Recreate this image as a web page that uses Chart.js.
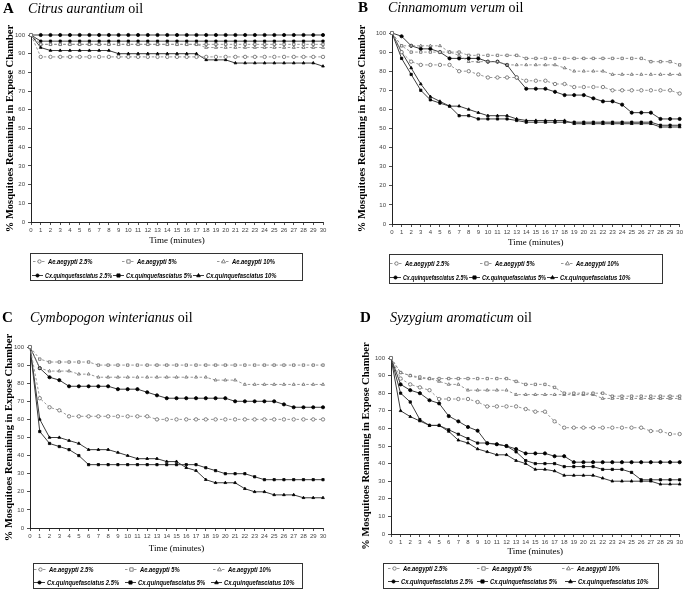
<!DOCTYPE html>
<html><head><meta charset="utf-8">
<script src="https://cdn.jsdelivr.net/npm/chart.js@4.4.1/dist/chart.umd.min.js"></script>
<style>
html,body{margin:0;padding:0;background:#fff;}
#wrap{position:relative;width:685px;height:589px;overflow:hidden;background:#fff;}
canvas{position:absolute;}
</style></head><body>
<div id="wrap">
<canvas id="cA" width="342" height="292" style="left:0;top:0"></canvas>
<canvas id="cB" width="343" height="292" style="left:342px;top:0"></canvas>
<canvas id="cC" width="342" height="297" style="left:0;top:292px"></canvas>
<canvas id="cD" width="343" height="297" style="left:342px;top:292px"></canvas>
</div>
<script>
// ---------- data ----------
const TIME_LABELS = ['0','1','2','3','4','5','6','7','8','9','10','11','12','13','14','15','16','17','18','19','20','21','22','23','24','25','26','27','28','29','30'];
const SERIES_NAMES = ['Ae.aegypti 2.5%','Ae.aegypti 5%','Ae.aegypti 10%','Cx.quinquefasciatus 2.5%','Cx.quinquefasciatus 5%','Cx.quinquefasciatus 10%'];
const Y_TITLE = '% Mosquitoes Remaining in Expose Chamber';
const X_TITLE = 'Time (minutes)';

// Panel A: Citrus aurantium oil
const A_AE_25 = [100, 88.3,88.3,88.3,88.3,88.3,88.3,88.3,88.3,88.3,88.3, 88.3,88.3,88.3,88.3,88.3,88.3,88.3,88.3,88.3,88.3, 88.3,88.3,88.3,88.3,88.3,88.3,88.3,88.3,88.3,88.3];
const A_AE_5  = [100, 95,95,95,95,95,95,95,95,95,95, 95,95,95,95,95,95,95,95,95,95, 95,95,95,95,95,95,95,95,95,95];
const A_AE_10 = [100, 95,95,95,95,95,95,95,95,95,95, 95,95,95,95,95,95,95,93.3,93.3,93.3, 93.3,93.3,93.3,93.3,93.3,93.3,93.3,93.3,93.3,93.3];
const A_CX_25 = [100, 100,100,100,100,100,100,100,100,100,100, 100,100,100,100,100,100,100,100,100,100, 100,100,100,100,100,100,100,100,100,100];
const A_CX_5  = [100, 96.7,96.7,96.7,96.7,96.7,96.7,96.7,96.7,96.7,96.7, 96.7,96.7,96.7,96.7,96.7,96.7,96.7,96.7,96.7,96.7, 96.7,96.7,96.7,96.7,96.7,96.7,96.7,96.7,96.7,96.7];
const A_CX_10 = [100, 93.3,91.7,91.7,91.7,91.7,91.7,91.7,91.7,90,90, 90,90,90,90,90,90,90,86.7,86.7,86.7, 85,85,85,85,85,85,85,85,85,83.3];

// Panel B: Cinnamomum verum oil
const B_AE_25 = [100, 90,85,83.3,83.3,83.3,83.3,80,80,78.3,76.7, 76.7,76.7,76.7,75,75,75,73.3,73.3,71.7,71.7, 71.7,71.7,70,70,70,70,70,70,70,68.3];
const B_AE_5  = [100, 93.3,90,90,90,90,90,90,88.3,88.3,88.3, 88.3,88.3,88.3,86.7,86.7,86.7,86.7,86.7,86.7,86.7, 86.7,86.7,86.7,86.7,86.7,86.7,85,85,85,83.3];
const B_AE_10 = [100, 93.3,93.3,93.3,93.3,93.3,90,88.3,85,85,85, 85,83.3,83.3,83.3,83.3,83.3,83.3,81.7,80,80, 80,80,78.3,78.3,78.3,78.3,78.3,78.3,78.3,78.3];
const B_CX_25 = [100, 98.3,93.3,91.7,91.7,90,86.7,86.7,86.7,86.7,85, 85,83.3,76.7,70.8,70.8,70.8,69.2,67.5,67.5,67.5, 65.8,64.2,64.2,62.5,58.3,58.3,58.3,55,55,55];
const B_CX_5  = [100, 86.7,78.3,70,65,63.3,61.7,56.7,56.7,55,55, 55,55,54.2,53.3,53.3,53.3,53.3,53.3,53.3,53.3, 53.3,53.3,53.3,53.3,53.3,53.3,53.3,51.7,51.7,51.7];
const B_CX_10 = [100, 90,81.7,73.3,66.7,64.2,61.7,61.7,60,58.3,56.7, 56.7,56.7,55,54.2,54.2,54.2,54.2,54.2,52.5,52.5, 52.5,52.5,52.5,52.5,52.5,52.5,52.5,50.8,50.8,50.8];

// Panel C: Cymbopogon winterianus oil
const C_AE_25 = [100, 71.7,66.7,65,61.7,61.7,61.7,61.7,61.7,61.7,61.7, 61.7,61.7,60,60,60,60,60,60,60,60, 60,60,60,60,60,60,60,60,60,60];
const C_AE_5  = [100, 93.3,91.7,91.7,91.7,91.7,91.7,90,90,90,90, 90,90,90,90,90,90,90,90,90,90, 90,90,90,90,90,90,90,90,90,90];
const C_AE_10 = [100, 88.3,86.7,86.7,86.7,85,85,83.3,83.3,83.3,83.3, 83.3,83.3,83.3,83.3,83.3,83.3,83.3,83.3,81.7,81.7, 81.7,79.3,79.3,79.3,79.3,79.3,79.3,79.3,79.3,79.3];
const C_CX_25 = [100, 88.3,83.3,81.7,78.3,78.3,78.3,78.3,78.3,76.7,76.7, 76.7,75,73.3,71.7,71.7,71.7,71.7,71.7,71.7,71.7, 70,70,70,70,70,68.3,66.7,66.7,66.7,66.7];
const C_CX_5  = [100, 53.3,46.7,45,43.3,40,35,35,35,35,35, 35,35,35,35,35,35,35,33.3,31.7,30, 30,30,28.3,26.7,26.7,26.7,26.7,26.7,26.7,26.7];
const C_CX_10 = [100, 60,50,50,48.3,46.7,43.3,43.3,43.3,41.7,40, 38.3,38.3,38.3,36.7,36.7,33.3,31.7,26.7,25,25, 25,21.7,20,20,18.3,18.3,18.3,16.7,16.7,16.7];

// Panel D: Syzygium aromaticum oil
const D_AE_25 = [100, 88.3,85,83.3,81.7,76.7,76.7,76.7,76.7,75,72.5, 72.5,72.5,72.5,71,69.5,69.5,64,60.4,60.4,60.4, 60.4,60.4,60.4,60.4,60.4,60.4,58.5,58.5,56.8,56.8];
const D_AE_5  = [100, 91.7,90,89.2,88.3,88.3,88.3,88.3,88.3,88.3,88.3, 88.3,88.3,86.7,85,85,85,83.3,80,80,80, 80,80,78.3,78.3,78.3,78.3,78.3,78.3,78.3,78.3];
const D_AE_10 = [100, 91.7,90,88.3,88.3,86.7,85,85,81.7,81.7,81.7, 81.7,81.7,79.2,79.2,79.2,79.2,79.2,79.2,79.2,79.2, 79.2,77,77,77,77,77,77,77,77,77];
const D_CX_25 = [100, 85,81.7,80,76,74.2,67,64,60.8,58.7,51.5, 51,50,48.3,45.8,45.8,45.8,44.2,44.2,40.8,40.8, 40.8,40.8,40.8,40.8,40.8,40.8,40.8,40.8,40.8,40.8];
const D_CX_5  = [100, 80,75,65,61.7,61.7,59.2,56.7,54.2,51.7,51.7, 51,50,46.7,41.7,40,40,40,38.3,38.3,38.3, 38.3,36.7,36.7,36.7,35,30.8,30.8,30.8,30.8,30.8];
const D_CX_10 = [100, 70,66.7,64.2,61.7,61.7,58.3,53.3,51.7,48.3,46.7, 45,45,41.7,40,36.7,36.7,35.8,33.3,33.3,33.3, 33.3,31.7,30,30,30,30,30,28.3,28.3,28.3];

// ---------- styling ----------
const SHAPES = ['circle','rect','triangle'];
function styleFor(i){
  const ae = i < 3;
  return {
    borderColor: ae ? '#8c8c8c' : '#3c3c3c',
    borderWidth: ae ? 0.9 : 1,
    borderDash: ae ? [2.5, 2] : [],
    pointStyle: SHAPES[i % 3],
    pointRadius: ae ? 1.7 : 1.6,
    pointBorderWidth: 0.8,
    pointBackgroundColor: ae ? '#ffffff' : '#000000',
    pointBorderColor: ae ? '#666666' : '#000000',
    tension: 0, fill: false, clip: 6
  };
}

function marker(ctx, style, x, y, r, fill, stroke, lw){
  ctx.beginPath();
  if (style === 'circle') ctx.arc(x, y, r, 0, Math.PI*2);
  else if (style === 'rect') ctx.rect(x-r, y-r, 2*r, 2*r);
  else { ctx.moveTo(x, y-r*1.25); ctx.lineTo(x+r*1.15, y+r*0.8); ctx.lineTo(x-r*1.15, y+r*0.8); ctx.closePath(); }
  ctx.fillStyle = fill; ctx.fill();
  ctx.strokeStyle = stroke; ctx.lineWidth = lw; ctx.stroke();
}

const panelDeco = {
  id: 'panelDeco',
  afterDraw(chart, args, o){
    const ctx = chart.ctx;
    ctx.save();
    ctx.setLineDash([]);
    ctx.fillStyle = '#000';
    ctx.textBaseline = 'alphabetic';
    ctx.textAlign = 'left';
    ctx.font = 'bold 15px "Liberation Serif", "Times New Roman", serif';
    ctx.fillText(o.letter, o.letterX, o.titleY);
    ctx.font = 'italic 14px "Liberation Serif", "Times New Roman", serif';
    ctx.fillText(o.species, o.titleX, o.titleY);
    const w = ctx.measureText(o.species + ' ').width;
    ctx.font = '14px "Liberation Serif", "Times New Roman", serif';
    ctx.fillText('oil', o.titleX + w, o.titleY);

    const L = o.legend;
    ctx.strokeStyle = '#333'; ctx.lineWidth = 1;
    ctx.strokeRect(L.x + 0.5, L.y + 0.5, L.w, L.h);
    chart.data.datasets.forEach((ds, i) => {
      const row = i < 3 ? 0 : 1, col = i % 3;
      const xs = L.cols[row];
      const sampleW = row === 0 ? 13 : 11;
      const sx = L.x + xs[col], sy = L.rows[row];
      ctx.save();
      ctx.strokeStyle = ds.borderColor; ctx.lineWidth = ds.borderWidth;
      ctx.setLineDash(ds.borderDash);
      ctx.beginPath(); ctx.moveTo(sx, sy + 0.5); ctx.lineTo(sx + sampleW, sy + 0.5); ctx.stroke();
      ctx.restore();
      marker(ctx, ds.pointStyle, sx + sampleW / 2, sy + 0.5, ds.pointRadius, ds.pointBackgroundColor, ds.pointBorderColor, ds.pointBorderWidth);
      ctx.fillStyle = '#000';
      ctx.font = 'italic bold 7.5px "Liberation Sans", Arial, sans-serif';
      ctx.textBaseline = 'middle';
      const tx = sx + sampleW + 2;
      const limit = col < 2 ? L.x + xs[col+1] - 1 : L.x + L.w - 1;
      const natural = ctx.measureText(ds.label).width;
      ctx.fillText(ds.label, tx, sy + 0.5, Math.max(10, Math.min(natural * 0.78, limit - tx)));
    });
    ctx.restore();
  }
};

const TICK_FONT = {family: '"Liberation Sans", Arial, sans-serif', size: 6};

function makeChart(id, series, deco, geom){
  new Chart(document.getElementById(id), {
    type: 'line',
    data: {
      labels: TIME_LABELS,
      datasets: series.map((d, i) => Object.assign({label: SERIES_NAMES[i], data: d}, styleFor(i)))
    },
    options: {
      responsive: false, animation: false, devicePixelRatio: 1, events: [],
      layout: {padding: geom.pad},
      plugins: {legend: {display: false}, tooltip: {enabled: false}, panelDeco: deco},
      scales: {
        x: {
          type: 'category', offset: false,
          grid: {display: true, drawOnChartArea: false, drawTicks: true, tickLength: 3, color: '#222', lineWidth: 0.8},
          border: {display: true, color: '#222', width: 1},
          ticks: {autoSkip: false, maxRotation: 0, minRotation: 0, padding: 2, font: TICK_FONT, color: '#444'},
          title: {display: true, text: X_TITLE, color: '#000', font: {family: '"Liberation Serif", "Times New Roman", serif', size: 9}, padding: {top: 0, bottom: 0}},
          afterFit: s => { s.height = geom.xh; }
        },
        y: {
          min: 0, max: 100,
          grid: {display: true, drawOnChartArea: false, drawTicks: true, tickLength: 3, color: '#222', lineWidth: 0.8},
          border: {display: true, color: '#222', width: 1},
          ticks: {stepSize: 10, padding: 3, font: TICK_FONT, color: '#444'},
          title: {display: true, text: Y_TITLE, color: '#000', font: {family: '"Liberation Serif", "Times New Roman", serif', size: 10.5, weight: 'bold'}, padding: {top: geom.yt, bottom: 0}},
          afterFit: s => { s.width = geom.yw; }
        }
      }
    },
    plugins: [panelDeco]
  });
}

makeChart('cA', [A_AE_25, A_AE_5, A_AE_10, A_CX_25, A_CX_5, A_CX_10],
  {letter: 'A', letterX: 3, titleX: 28, titleY: 13, species: 'Citrus aurantium',
   legend: {x: 30, y: 253, w: 272, h: 27, rows: [261, 275], cols: [[3, 92, 187], [2, 83, 163]]}},
  {pad: {left: 0, top: 35, right: 19, bottom: 46}, yw: 31, xh: 24, yt: 4});

makeChart('cB', [B_AE_25, B_AE_5, B_AE_10, B_CX_25, B_CX_5, B_CX_10],
  {letter: 'B', letterX: 16, titleX: 46, titleY: 12, species: 'Cinnamomum verum',
   legend: {x: 47, y: 254, w: 273, h: 29, rows: [263, 277], cols: [[1, 91, 172], [1, 80, 158]]}},
  {pad: {left: 0, top: 33, right: 2, bottom: 44}, yw: 50, xh: 24, yt: 14});

makeChart('cC', [C_AE_25, C_AE_5, C_AE_10, C_CX_25, C_CX_5, C_CX_10],
  {letter: 'C', letterX: 2, titleX: 30, titleY: 30, species: 'Cymbopogon winterianus',
   legend: {x: 33, y: 271, w: 269, h: 25, rows: [277, 290], cols: [[1, 92, 180], [1, 92, 178]]}},
  {pad: {left: 0, top: 55, right: 19, bottom: 35}, yw: 30, xh: 26, yt: 3});

makeChart('cD', [D_AE_25, D_AE_5, D_AE_10, D_CX_25, D_CX_5, D_CX_10],
  {letter: 'D', letterX: 18, titleX: 48, titleY: 30, species: 'Syzygium aromaticum',
   legend: {x: 41, y: 271, w: 275, h: 25, rows: [276, 289], cols: [[5, 94, 179], [5, 94, 182]]}},
  {pad: {left: 0, top: 66, right: 2, bottom: 32}, yw: 49, xh: 23, yt: 18});
</script>
</body></html>
